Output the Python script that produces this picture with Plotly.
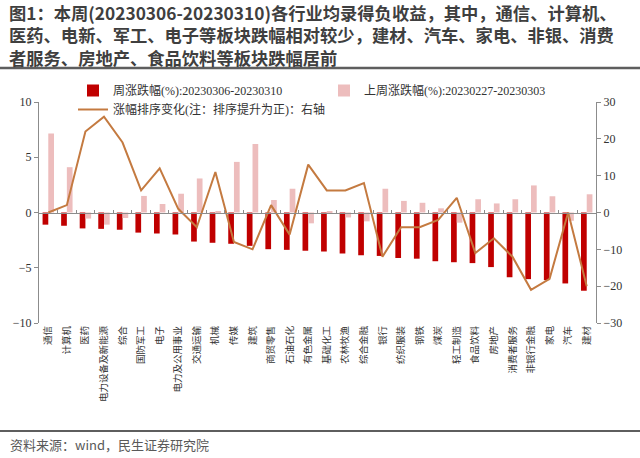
import plotly.graph_objects as go

categories = ["通信", "计算机", "医药", "电力设备及新能源", "综合", "国防军工", "电子",
              "电力及公用事业", "交通运输", "机械", "传媒", "建筑", "商贸零售", "石油石化",
              "有色金属", "基础化工", "农林牧渔", "综合金融", "银行", "纺织服装", "钢铁",
              "煤炭", "轻工制造", "食品饮料", "房地产", "消费者服务", "非银行金融", "家电",
              "汽车", "建材"]

week_change = [-1.10, -1.20, -1.44, -1.48, -1.56, -1.82, -1.90, -1.99, -2.63, -2.74,
               -2.83, -3.02, -3.32, -3.38, -3.46, -3.53, -3.71, -3.87, -3.93, -4.12,
               -4.18, -4.41, -4.50, -4.58, -4.94, -5.86, -6.03, -6.12, -6.42, -7.08]

prev_week_change = [7.15, 4.10, -0.55, -1.10, -0.50, 1.50, 0.77, 1.70, 3.08, 0.05,
                    4.58, 6.20, 1.13, 2.15, -0.98, 0.05, -0.45, -0.80, 2.15, 1.05,
                    0.88, 0.38, -0.92, 1.20, 0.82, 1.20, 2.45, 1.47, -0.75, 1.65]

rank_change = [0, 2, 22, 26, 19, 6, 12, 1, -4, 11, -8, -10, 2, -6, 13,
               6, 6, 8, -12, -4, -4, -2, 4, -11, -7, -12, -21, -18, 0, -20]

left_range = [-10, 10]
right_range = [-30, 30]

name_cur = "周涨跌幅(%):20230306-20230310"
name_prev = "上周涨跌幅(%):20230227-20230303"
name_rank = "涨幅排序变化(注：排序提升为正)：右轴"

title_lines = ["图1：本周(20230306-20230310)各行业均录得负收益，其中，通信、计算机、",
               "医药、电新、军工、电子等板块跌幅相对较少，建材、汽车、家电、非银、消费",
               "者服务、房地产、食品饮料等板块跌幅居前"]
source_text = "资料来源：wind，民生证券研究院"

W, H = 640, 458
ML, MR, MT, MB = 39, 44, 102, 135
PW, PH = W - ML - MR, H - MT - MB


def px_x(p):
    return (p - ML) / PW


def px_y(p):
    return (H - MB - p) / PH


serif = "Liberation Serif, Noto Sans CJK SC, serif"
cjk = "Noto Sans CJK SC, sans-serif"
axis_col = "#8c8c8c"

fig = go.Figure()
fig.add_trace(go.Bar(x=categories, y=week_change, name=name_cur,
                     marker=dict(color="#C00000", line=dict(width=0))))
fig.add_trace(go.Bar(x=categories, y=prev_week_change, name=name_prev,
                     marker=dict(color="#EDBDBD", line=dict(width=0))))
fig.add_trace(go.Scatter(x=categories, y=rank_change, name=name_rank, mode="lines",
                         line=dict(color="#C47A40", width=2),
                         xaxis="x2", yaxis="y2"))

zero_pos = (0 - left_range[0]) / (left_range[1] - left_range[0])

fig.update_layout(
    width=W, height=H,
    margin=dict(l=ML, r=MR, t=MT, b=MB, autoexpand=False),
    paper_bgcolor="white", plot_bgcolor="white",
    barmode="group", bargap=0.385, bargroupgap=0,
    font=dict(family=serif, size=12, color="#333333"),
    xaxis=dict(type="category", range=[-0.5, len(categories) - 0.5],
               showline=False, ticks="", showgrid=False, zeroline=False,
               tickangle=-90, tickfont=dict(family=cjk, size=9.5, color="#333333")),
    xaxis2=dict(type="category", overlaying="x", anchor="free", position=zero_pos,
                range=[-0.5, len(categories) - 0.5], side="bottom",
                showline=True, linecolor=axis_col, linewidth=1,
                ticks="inside", ticklen=3, tickcolor=axis_col, tickson="boundaries",
                showticklabels=False, showgrid=False, zeroline=False),
    yaxis=dict(range=left_range, dtick=5, showline=True, linecolor=axis_col,
               ticks="outside", ticklen=4, tickcolor=axis_col, showgrid=False,
               zeroline=False, tickfont=dict(family=serif, size=12, color="#333333")),
    yaxis2=dict(range=right_range, dtick=10, overlaying="y", side="right", anchor="x",
                showline=True, linecolor=axis_col, ticks="outside", ticklen=4,
                tickcolor=axis_col, showgrid=False, zeroline=False,
                tickfont=dict(family=serif, size=12, color="#333333")),
    legend=dict(orientation="h", x=px_x(73), xanchor="left", y=px_y(76), yanchor="top",
                entrywidth=206, font=dict(family=serif, size=12, color="#333333"),
                bgcolor="rgba(0,0,0,0)", traceorder="normal", tracegroupgap=0),
    showlegend=True,
)

fig.add_annotation(text="<br>".join(title_lines), xref="paper", yref="paper", x=px_x(7),
                   y=px_y(35.5), xanchor="left", yanchor="middle", align="left",
                   showarrow=False,
                   font=dict(family=cjk, size=17.3, color="#3f3f3f", weight="bold"))

fig.add_shape(type="line", xref="paper", yref="paper", x0=px_x(0), x1=px_x(W),
              y0=px_y(68), y1=px_y(68), line=dict(color="#5e5e5e", width=2.5))
fig.add_shape(type="line", xref="paper", yref="paper", x0=px_x(0), x1=px_x(W),
              y0=px_y(431), y1=px_y(431), line=dict(color="#5e5e5e", width=2))
fig.add_annotation(text=source_text, xref="paper", yref="paper", x=px_x(8), y=px_y(444),
                   xanchor="left", yanchor="middle", showarrow=False,
                   font=dict(family=cjk, size=13, color="#595959"))

fig.write_html("out.html", post_script="document.body.style.margin='0';",
               config={"displayModeBar": False})
